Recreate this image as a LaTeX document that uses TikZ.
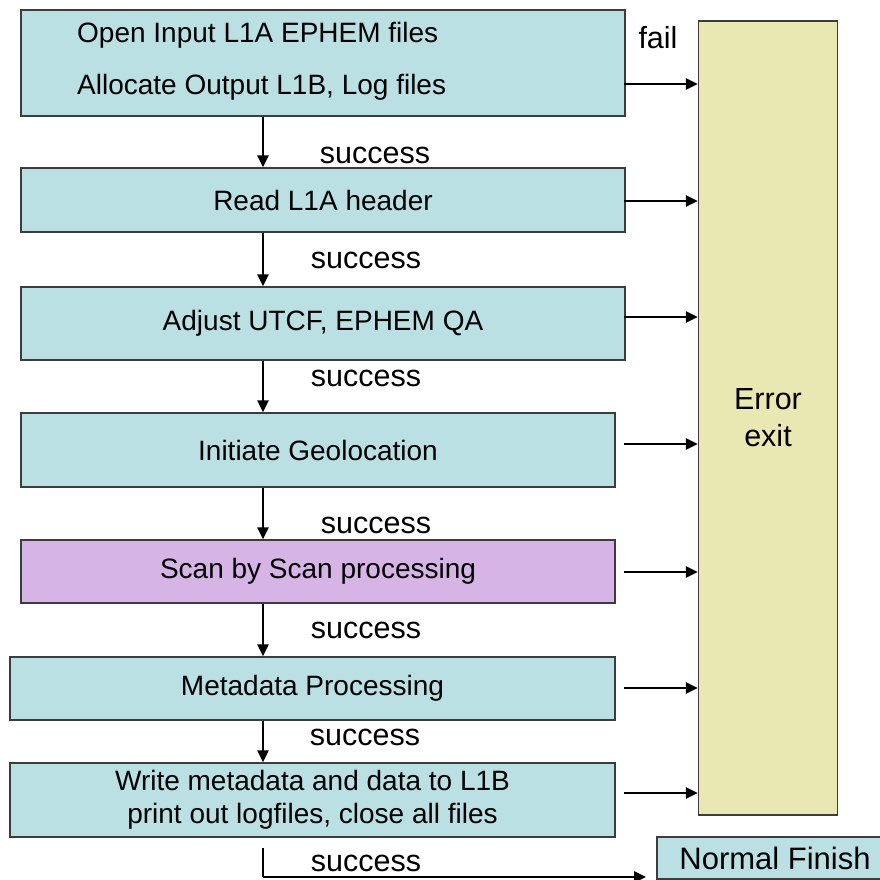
\documentclass[tikz,border=0pt]{standalone}
\usepackage{fontspec}
\setmainfont{Liberation Sans}
\usetikzlibrary{arrows.meta}
\definecolor{cyanbox}{RGB}{186,224,227}
\definecolor{purplebox}{RGB}{214,180,230}
\definecolor{yellowbox}{RGB}{233,231,178}
\definecolor{edge}{RGB}{60,60,60}
\tikzset{
  box/.style={draw=edge, line width=1.4pt, inner sep=0pt, align=center,
    font=\fontsize{28}{33}\selectfont},
  arr/.style={line width=2.6pt, -{Triangle[length=12pt,width=11pt]}},
  lbl/.style={inner sep=0pt, font=\fontsize{30.5}{37}\selectfont, align=center},
}
\begin{document}
\begin{tikzpicture}[x=1pt,y=-1pt]
\useasboundingbox (0,0) rectangle (880,880);
\clip (0,0) rectangle (880,880);
% process boxes
\node[box, fill=cyanbox, minimum width=604pt, minimum height=106pt] (b1) at (323,63) {};
\node[inner sep=0pt, anchor=west, align=left, font=\fontsize{28}{52}\selectfont] (t1) at (77,61)
  {Open Input L1A EPHEM files\\Allocate Output L1B, Log files};
\node[box, fill=cyanbox, minimum width=604pt, minimum height=64pt] (b2) at (323,200) {Read L1A header};
\node[box, fill=cyanbox, minimum width=604pt, minimum height=73pt] (b3) at (323,323.5) {Adjust UTCF, EPHEM QA};
\node[box, fill=cyanbox, minimum width=594pt, minimum height=74pt] (b4) at (318,450) {Initiate Geolocation};
\node[box, fill=purplebox, minimum width=594pt, minimum height=63pt] (b5) at (318,571.5) {Scan by Scan processing};
\node[box, fill=cyanbox, minimum width=605pt, minimum height=63pt] (b6) at (312.5,688.5) {Metadata Processing};
\node[box, fill=cyanbox, minimum width=605pt, minimum height=74pt] (b7) at (312.5,800)
  {Write metadata and data to L1B\\print out logfiles, close all files};
% error exit
\node[box, fill=yellowbox, minimum width=139pt, minimum height=794pt,
  font=\fontsize{30.5}{37}\selectfont] (err) at (768,418) {Error\\exit};
% normal finish
\node[box, fill=cyanbox, minimum width=236pt, minimum height=42pt,
  font=\fontsize{31}{37}\selectfont] (nf) at (775,858) {Normal Finish};
% vertical success arrows
\coordinate (cx) at (263,0);
\draw[arr] (cx |- b1.south) -- (cx |- b2.north);
\draw[arr] (cx |- b2.south) -- (cx |- b3.north);
\draw[arr] (cx |- b3.south) -- (cx |- b4.north);
\draw[arr] (cx |- b4.south) -- (cx |- b5.north);
\draw[arr] (cx |- b5.south) -- (cx |- b6.north);
\draw[arr] (cx |- b6.south) -- (cx |- b7.north);
% fail arrows
\coordinate (ax) at (624,0);
\draw[arr] (ax |- 0,84) -- (err.west |- 0,84);
\draw[arr] (ax |- 0,201) -- (err.west |- 0,201);
\draw[arr] (ax |- 0,317) -- (err.west |- 0,317);
\draw[arr] (ax |- 0,444) -- (err.west |- 0,444);
\draw[arr] (ax |- 0,572) -- (err.west |- 0,572);
\draw[arr] (ax |- 0,688) -- (err.west |- 0,688);
\draw[arr] (ax |- 0,793) -- (err.west |- 0,793);
% final connector
\coordinate (fs) at (263,848);
\coordinate (fc) at (263,877);
\coordinate (fe) at (646,877);
\draw[line width=1.2pt] (fs) -- (fc);
\draw[arr] (fc) -- (fe);
% labels
\node[lbl] (fail) at (658,38) {fail};
\node[lbl] (s1) at (375,155) {success};
\node[lbl] (s2) at (366,260) {success};
\node[lbl] (s3) at (366,378) {success};
\node[lbl] (s4) at (376,525) {success};
\node[lbl] (s5) at (366,630) {success};
\node[lbl] (s6) at (365,737) {success};
\node[lbl] (s7) at (366,863) {success};
\end{tikzpicture}
\end{document}
